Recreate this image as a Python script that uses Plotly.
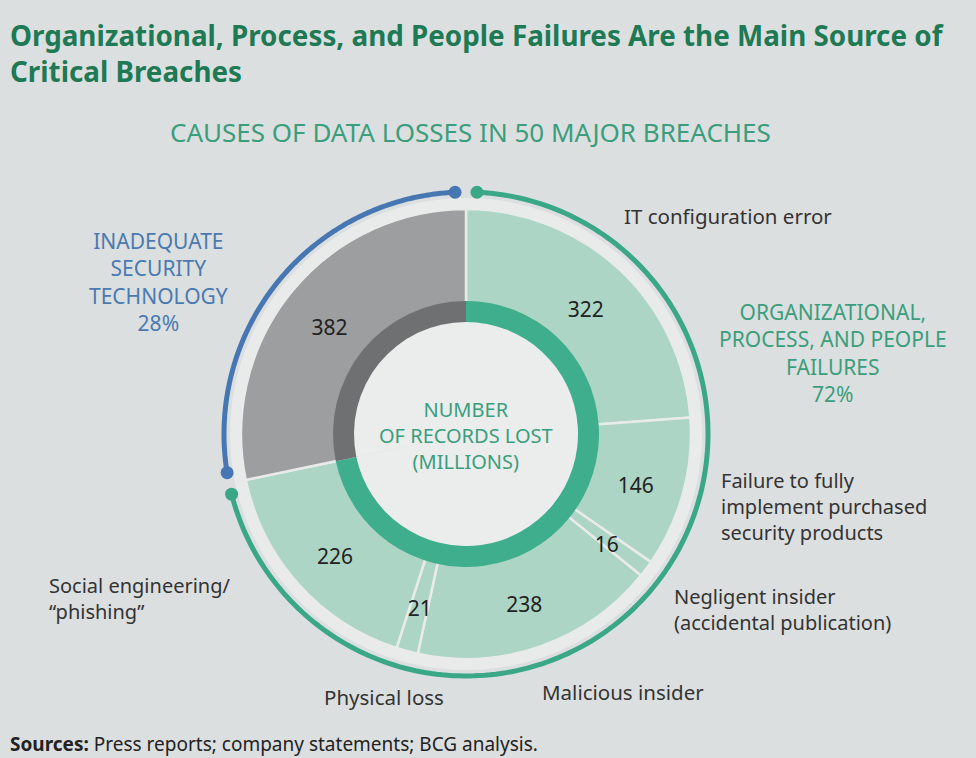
import numpy as np
import plotly.graph_objects as go

# ---------------- data ----------------
categories = [
    "IT configuration error",
    "Failure to fully implement purchased security products",
    "Negligent insider (accidental publication)",
    "Malicious insider",
    "Physical loss",
    "Social engineering/“phishing”",
    "Inadequate security technology",
]
records = [322, 146, 16, 238, 21, 226, 382]
group_of = ["org", "org", "org", "org", "org", "org", "tech"]
group_keys = ["org", "tech"]
group_pct = {"org": "72%", "tech": "28%"}

# ---------------- style ----------------
W, H = 976, 758
BG = "#dcdfdf"
LIGHT = "#e9ebeb"
CENTER = "#ebecec"
WEDGE = {"org": "#acd5c5", "tech": "#9c9e9f"}
INNER = {"org": "#3fae8c", "tech": "#6e7071"}
ARC = {"org": "#3aa886", "tech": "#4677b3"}
TEAL_TXT = "#3a9e7c"
BLUE_TXT = "#4a7ab0"
DARK = "#333333"
TITLE_C = "#1d7a55"
FONT = "Noto Sans"

CX, CY, RMAX = 466, 434, 250  # pixel centre & radius of polar area
LABEL_DY = 7                   # value labels sit slightly lower
R_HOLE, R_INNER, R_WEDGE, R_LIGHT, R_ARC, R_LABEL = 112, 133, 225, 236, 242, 176

vals = np.array(records, float)
total = vals.sum()
widths = vals / total * 360
starts = np.concatenate([[0], np.cumsum(widths)[:-1]])
mids = starts + widths / 2

# group spans
g_start, g_width = {}, {}
for g in group_keys:
    idx = [i for i, k in enumerate(group_of) if k == g]
    g_start[g] = starts[idx[0]]
    g_width[g] = widths[idx].sum()
g_mid = [g_start[g] + g_width[g] / 2 for g in group_keys]
g_w = [g_width[g] for g in group_keys]

fig = go.Figure()

# light ring behind wedges
fig.add_trace(go.Barpolar(theta=g_mid, width=g_w, base=[R_WEDGE - 2] * 2,
                          r=[R_LIGHT - R_WEDGE + 2] * 2,
                          marker=dict(color=LIGHT, line=dict(width=0)),
                          hoverinfo="skip", showlegend=False))
# main wedges
fig.add_trace(go.Barpolar(theta=mids, width=widths, base=[R_INNER - 2] * len(vals),
                          r=[R_WEDGE - R_INNER + 2] * len(vals),
                          marker=dict(color=[WEDGE[g] for g in group_of],
                                      line=dict(color=LIGHT, width=2.5)),
                          text=categories, hoverinfo="text", showlegend=False))
# inner ring
fig.add_trace(go.Barpolar(theta=g_mid, width=g_w, base=[R_HOLE - 1] * 2,
                          r=[R_INNER - R_HOLE + 1] * 2,
                          marker=dict(color=[INNER[g] for g in group_keys], line=dict(width=0)),
                          hoverinfo="skip", showlegend=False))
# centre disk
fig.add_trace(go.Barpolar(theta=g_mid, width=g_w, base=[0, 0], r=[R_HOLE, R_HOLE],
                          marker=dict(color=CENTER, line=dict(width=0)),
                          hoverinfo="skip", showlegend=False))

# outer arcs with end dots
GAP = 2.6
for g in group_keys:
    a0 = g_start[g] + GAP
    a1 = g_start[g] + g_width[g] - GAP
    th = np.linspace(a0, a1, 200)
    fig.add_trace(go.Scatterpolar(theta=th, r=[R_ARC] * len(th), mode="lines",
                                  line=dict(color=ARC[g], width=5),
                                  hoverinfo="skip", showlegend=False))
    fig.add_trace(go.Scatterpolar(theta=[a0, a1], r=[R_ARC, R_ARC], mode="markers",
                                  marker=dict(color=ARC[g], size=13),
                                  hoverinfo="skip", showlegend=False))

# value labels (on a twin polar shifted a few pixels down)
fig.add_trace(go.Scatterpolar(theta=mids, r=[R_LABEL] * len(vals), mode="text",
                              text=[str(v) for v in records], subplot="polar2",
                              textfont=dict(family=FONT, size=21, color="#222222"),
                              hoverinfo="skip", showlegend=False))

ang = dict(rotation=90, direction="clockwise", showticklabels=False,
           showgrid=False, showline=False, ticks="")
rad = dict(visible=False, range=[0, RMAX])


def polar_dom(dy):
    return dict(x=[(CX - RMAX) / W, (CX + RMAX) / W],
                y=[(H - CY - dy - RMAX) / H, (H - CY - dy + RMAX) / H])


fig.update_layout(
    width=W, height=H,
    margin=dict(l=0, r=0, t=0, b=0),
    paper_bgcolor=BG, plot_bgcolor=BG,
    font=dict(family=FONT),
    polar=dict(domain=polar_dom(0), bgcolor="rgba(0,0,0,0)", bargap=0,
               radialaxis=rad, angularaxis=ang),
    polar2=dict(domain=polar_dom(LABEL_DY), bgcolor="rgba(0,0,0,0)",
                radialaxis=rad, angularaxis=ang),
)


def ann(text, x, y, size, color, xanchor="left", bold=False):
    if isinstance(text, (list, tuple)):
        text = "<br>".join(text)
    fig.add_annotation(text=f"<b>{text}</b>" if bold else text,
                       x=x / W, y=1 - y / H, xref="paper", yref="paper",
                       xanchor=xanchor, yanchor="middle", align=xanchor, showarrow=False,
                       font=dict(family=FONT, size=size, color=color))


ann(["Organizational, Process, and People Failures Are the Main Source of",
     "Critical Breaches"], 8, 53, 27.8, TITLE_C, bold=True)
ann("CAUSES OF DATA LOSSES IN 50 MAJOR BREACHES", 470, 132, 26, TEAL_TXT, xanchor="center")

ann(["NUMBER", "OF RECORDS LOST", "(MILLIONS)"], CX, 435, 20, TEAL_TXT, "center")
ann(["ORGANIZATIONAL,", "PROCESS, AND PEOPLE", "FAILURES", group_pct["org"]],
    833, 353, 21, TEAL_TXT, "center")
ann(["INADEQUATE", "SECURITY", "TECHNOLOGY", group_pct["tech"]],
    158, 282, 21, BLUE_TXT, "center")

ann(categories[0], 622, 216, 20.5, DARK)
ann(["Failure to fully", "implement purchased", "security products"], 719, 506, 20, DARK)
ann(["Negligent insider", "(accidental publication)"], 672, 609, 20, DARK)
ann(categories[3], 540, 692, 20.5, DARK)
ann(categories[4], 322, 697, 20.5, DARK)
ann(["Social engineering/", "“phishing”"], 47, 598, 20, DARK)

ann("<b>Sources:</b> Press reports; company statements; BCG analysis.", 8, 744, 19, "#222222")

fig.write_html("out.html", config={"displayModeBar": False},
               post_script="document.body.style.margin='0';document.body.style.background='%s';" % BG)
